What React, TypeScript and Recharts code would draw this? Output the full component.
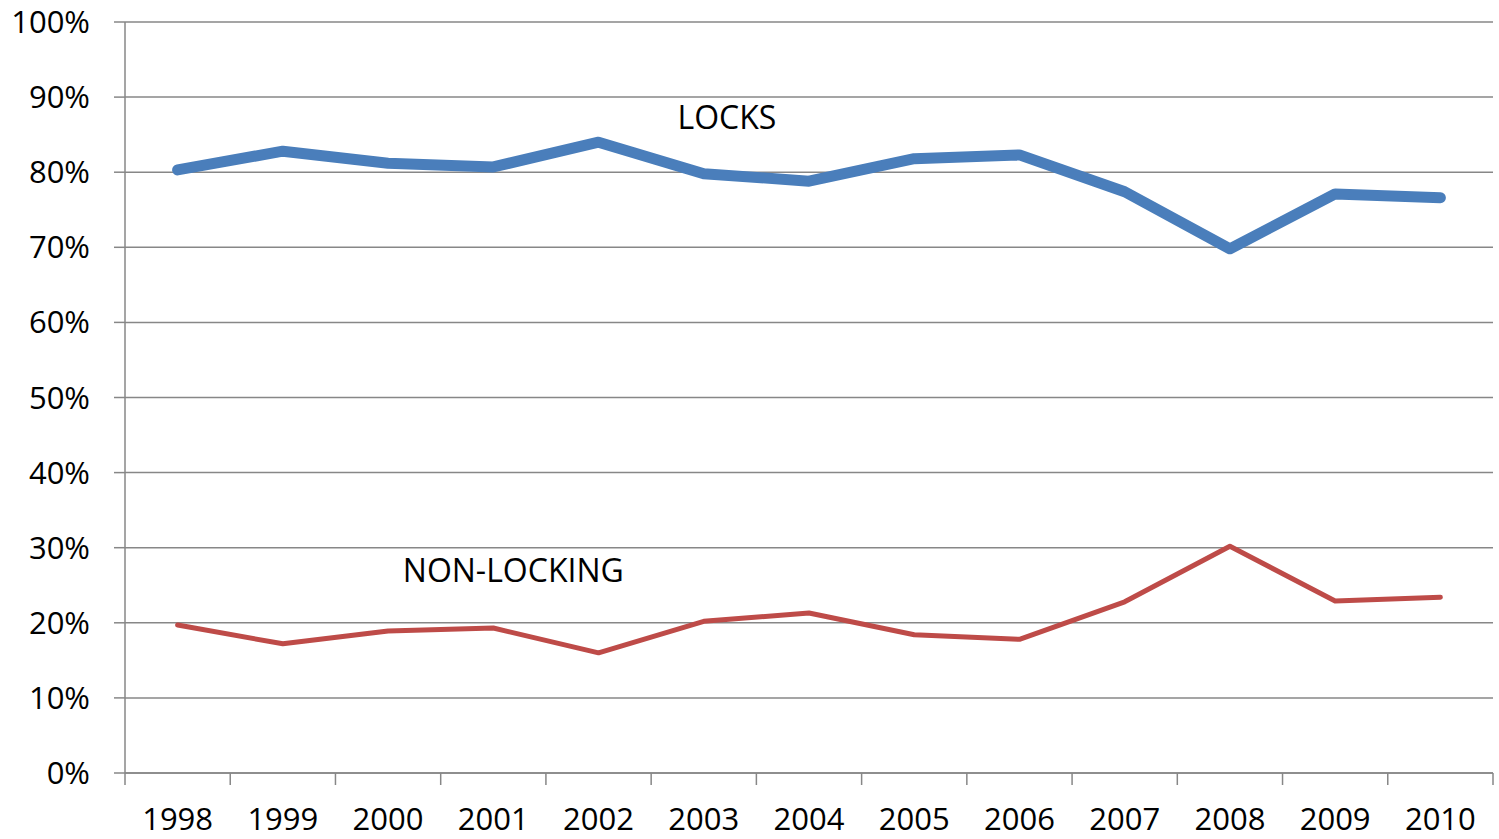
import { LineChart, Line, XAxis, YAxis, CartesianGrid, ReferenceDot } from "recharts";

const YEARS = ["1998", "1999", "2000", "2001", "2002", "2003", "2004", "2005", "2006", "2007", "2008", "2009", "2010"];
const LOCKS = [80.3, 82.8, 81.2, 80.7, 84.0, 79.8, 78.8, 81.8, 82.3, 77.4, 69.8, 77.1, 76.6];
const NON_LOCKING = [19.7, 17.2, 18.9, 19.3, 16.0, 20.2, 21.3, 18.4, 17.8, 22.8, 30.2, 22.9, 23.4];
const Y_TICKS = [0, 10, 20, 30, 40, 50, 60, 70, 80, 90, 100];

// each year sits in the middle of its slot on a 0..13 axis
const data = YEARS.map((year, i) => ({
  pos: i + 0.5,
  year,
  locks: LOCKS[i],
  nonLocking: NON_LOCKING[i],
}));

const slotTicks = YEARS.map((_, i) => i).concat(YEARS.length);
const labelTicks = data.map((d) => d.pos);

const AXIS_GREY = "#878787";
const FONT = "'Open Sans', sans-serif";

export default function App() {
  return (
    <div style={{ position: "absolute", left: 0, top: 0, background: "#fff" }}>
      <LineChart width={1499} height={839} data={data} margin={{ top: 22, right: 6, left: 0, bottom: 0 }}>
        <CartesianGrid vertical={false} stroke={AXIS_GREY} strokeWidth={1.5} />
        <XAxis
          xAxisId="slots"
          dataKey="pos"
          type="number"
          domain={[0, YEARS.length]}
          ticks={slotTicks}
          tickFormatter={() => ""}
          tickSize={12}
          height={1}
          interval={0}
          stroke={AXIS_GREY}
          strokeWidth={1.5}
          tickLine={{ stroke: AXIS_GREY, strokeWidth: 1.5 }}
        />
        <XAxis
          xAxisId="years"
          dataKey="pos"
          type="number"
          domain={[0, YEARS.length]}
          ticks={labelTicks}
          tickFormatter={(v: number) => YEARS[Math.floor(v)]}
          axisLine={false}
          tickLine={false}
          tickSize={12}
          tickMargin={22}
          height={65}
          interval={0}
          tick={{ fill: "#000", fontSize: 31, fontFamily: FONT }}
        />
        <YAxis
          domain={[0, 100]}
          ticks={Y_TICKS}
          tickFormatter={(v: number) => `${v}%`}
          width={125}
          tickSize={11}
          tickMargin={24}
          interval={0}
          stroke={AXIS_GREY}
          strokeWidth={1.5}
          tick={{ fill: "#000", fontSize: 31, fontFamily: FONT }}
        />
        <Line
          xAxisId="slots"
          type="linear"
          dataKey="locks"
          stroke="#4a7ebb"
          strokeWidth={11}
          strokeLinecap="round"
          strokeLinejoin="round"
          dot={false}
          activeDot={false}
          isAnimationActive={false}
        />
        <Line
          xAxisId="slots"
          type="linear"
          dataKey="nonLocking"
          stroke="#be4b48"
          strokeWidth={5}
          strokeLinecap="round"
          strokeLinejoin="round"
          dot={false}
          activeDot={false}
          isAnimationActive={false}
        />
        <ReferenceDot
          xAxisId="slots"
          x={5.72}
          y={87.2}
          r={0}
          stroke="none"
          fill="none"
          label={{ value: "LOCKS", position: "center", fill: "#000", fontSize: 32, fontFamily: FONT }}
        />
        <ReferenceDot
          xAxisId="slots"
          x={3.69}
          y={26.9}
          r={0}
          stroke="none"
          fill="none"
          label={{ value: "NON-LOCKING", position: "center", fill: "#000", fontSize: 32, fontFamily: FONT }}
        />
      </LineChart>
    </div>
  );
}
